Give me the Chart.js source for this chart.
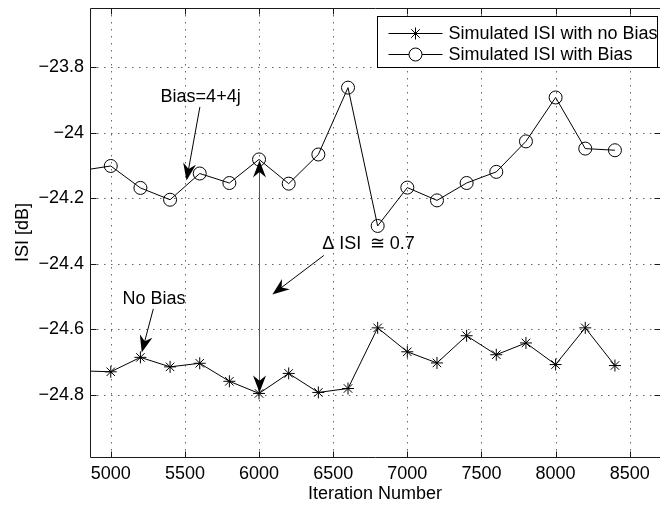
<!DOCTYPE html>
<html>
<head>
<meta charset="utf-8">
<script src="https://cdn.jsdelivr.net/npm/chart.js@4/dist/chart.umd.min.js"></script>
<style>
html,body{margin:0;padding:0;background:#fff;}
#wrap{width:660px;height:505px;}
</style>
</head>
<body>
<div id="wrap"><canvas id="c" width="660" height="505"></canvas></div>
<script>
// ---- data ----
const iterations = [4800, 5000, 5200, 5400, 5600, 5800, 6000, 6200, 6400, 6600, 6800, 7000, 7200, 7400, 7600, 7800, 8000, 8200, 8400];
const isiNoBias  = [-24.727, -24.730, -24.686, -24.715, -24.704, -24.759, -24.796, -24.735, -24.793, -24.781, -24.596, -24.669, -24.703, -24.620, -24.678, -24.642, -24.708, -24.596, -24.711];
const isiBias    = [-24.116, -24.102, -24.169, -24.205, -24.125, -24.154, -24.082, -24.156, -24.067, -23.863, -24.285, -24.168, -24.207, -24.154, -24.120, -24.027, -23.893, -24.049, -24.054];
const seriesNames = ['Simulated ISI with no Bias', 'Simulated ISI with Bias'];
const xTicks = [5000, 5500, 6000, 6500, 7000, 7500, 8000, 8500];
const yTicks = [-23.8, -24, -24.2, -24.4, -24.6, -24.8];
const xTitle = 'Iteration Number';
const yTitle = 'ISI [dB]';
// annotations (data coordinates)
const noteTexts = ['Bias=4+4j', 'No Bias', '\u0394 ISI \u2009\u2245 0.7'];
const noteX = [5606, 5291, 6738];
const noteY = [-23.891, -24.508, -24.339];
const arrowFromX = [5601, 5287, 6437];
const arrowFromY = [-23.922, -24.538, -24.375];
const arrowToX = [5511, 5209, 6090];
const arrowToY = [-24.146, -24.671, -24.494];
const deltaIteration = 6000;

const FONT = '"Liberation Sans", Arial, Helvetica, sans-serif';
const FS = 18;

function yLabel(v) {
  return String(Math.round(v * 10) / 10).replace('-', '\u2212');
}

function arrowHead(ctx, x1, y1, x2, y2, L, W) {
  const a = Math.atan2(y2 - y1, x2 - x1);
  ctx.save();
  ctx.translate(x2, y2);
  ctx.rotate(a);
  ctx.beginPath();
  ctx.moveTo(0, 0);
  ctx.lineTo(-L, -W);
  ctx.lineTo(-L * 0.68, 0);
  ctx.lineTo(-L, W);
  ctx.closePath();
  ctx.fill();
  ctx.restore();
}
function arrow(ctx, x1, y1, x2, y2, color) {
  const L = 17, W = 6.5;
  const d = Math.hypot(x2 - x1, y2 - y1);
  const ex = x2 - (x2 - x1) / d * L * 0.6, ey = y2 - (y2 - y1) / d * L * 0.6;
  ctx.strokeStyle = color || '#000';
  ctx.lineWidth = 1;
  ctx.beginPath(); ctx.moveTo(x1, y1); ctx.lineTo(ex, ey); ctx.stroke();
  ctx.fillStyle = '#000';
  arrowHead(ctx, x1, y1, x2, y2, L, W);
}
function drawStar(ctx, x, y, r) {
  ctx.beginPath();
  ctx.moveTo(x - r, y); ctx.lineTo(x + r, y);
  ctx.moveTo(x, y - r); ctx.lineTo(x, y + r);
  const d = r * Math.SQRT1_2;
  ctx.moveTo(x - d, y - d); ctx.lineTo(x + d, y + d);
  ctx.moveTo(x - d, y + d); ctx.lineTo(x + d, y - d);
  ctx.stroke();
}

const matlabPlugin = {
  id: 'matlab',
  beforeDatasetsDraw(chart) {
    const {ctx, chartArea: a, scales: {x, y}} = chart;
    ctx.save();
    ctx.strokeStyle = 'rgba(0,0,0,0.6)';
    ctx.lineWidth = 1;
    ctx.setLineDash([1.5, 5.5]);
    xTicks.forEach(v => {
      const px = Math.round(x.getPixelForValue(v)) + 0.5;
      ctx.beginPath(); ctx.moveTo(px, a.top); ctx.lineTo(px, a.bottom); ctx.stroke();
    });
    yTicks.forEach(v => {
      const py = Math.round(y.getPixelForValue(v)) + 0.5;
      ctx.beginPath(); ctx.moveTo(a.left, py); ctx.lineTo(a.right, py); ctx.stroke();
    });
    ctx.restore();
  },
  afterDatasetsDraw(chart) {
    const {ctx, chartArea: a, scales: {x, y}} = chart;
    ctx.save();
    // axes box
    ctx.strokeStyle = '#1a1a1a';
    ctx.lineWidth = 1;
    const L = Math.round(a.left) + 0.5, T = Math.round(a.top) + 0.5, B = Math.round(a.bottom) + 0.5, R = Math.round(a.right) + 0.5;
    ctx.beginPath();
    ctx.moveTo(L, T); ctx.lineTo(R, T); ctx.lineTo(R, B); ctx.lineTo(L, B); ctx.closePath();
    ctx.stroke();
    // inward tick marks
    const tl = 6;
    ctx.beginPath();
    xTicks.forEach(v => {
      const px = Math.round(x.getPixelForValue(v)) + 0.5;
      ctx.moveTo(px, B); ctx.lineTo(px, B - tl);
      ctx.moveTo(px, T); ctx.lineTo(px, T + tl);
    });
    yTicks.forEach(v => {
      const py = Math.round(y.getPixelForValue(v)) + 0.5;
      ctx.moveTo(L, py); ctx.lineTo(L + tl, py);
      ctx.moveTo(R, py); ctx.lineTo(R - tl, py);
    });
    ctx.stroke();

    // annotation texts
    ctx.fillStyle = '#000';
    ctx.font = FS + 'px ' + FONT;
    ctx.textAlign = 'center';
    ctx.textBaseline = 'middle';
    noteTexts.forEach((t, i) => {
      ctx.fillText(t, x.getPixelForValue(noteX[i]), y.getPixelForValue(noteY[i]));
    });
    // annotation arrows
    arrowFromX.forEach((v, i) => {
      arrow(ctx, x.getPixelForValue(v), y.getPixelForValue(arrowFromY[i]),
                 x.getPixelForValue(arrowToX[i]), y.getPixelForValue(arrowToY[i]));
    });
    // double arrow between the two series at deltaIteration
    const k = iterations.indexOf(deltaIteration);
    const dx = Math.round(x.getPixelForValue(deltaIteration)) + 0.5;
    const yTop = y.getPixelForValue(isiBias[k]);
    const yBot = y.getPixelForValue(isiNoBias[k]);
    ctx.strokeStyle = '#555';
    ctx.beginPath(); ctx.moveTo(dx, yTop + 10); ctx.lineTo(dx, yBot - 10); ctx.stroke();
    ctx.fillStyle = '#000';
    arrowHead(ctx, dx, yBot, dx, yTop + 1, 17, 6.5);
    arrowHead(ctx, dx, yTop, dx, yBot - 1, 17, 6.5);

    // legend
    const lw = 280, lh = 51;
    const lx = Math.round(a.right - 3 - lw) + 0.5, ly = Math.round(a.top + 8) + 0.5;
    ctx.fillStyle = '#fff';
    ctx.fillRect(lx, ly, lw, lh);
    ctx.strokeStyle = '#000';
    ctx.lineWidth = 1;
    ctx.strokeRect(lx, ly, lw, lh);
    const rows = [ly + 16, ly + 37.5];
    chart.data.datasets.forEach((ds, i) => {
      const ry = Math.round(rows[i]) + 0.5;
      ctx.strokeStyle = '#000';
      ctx.beginPath(); ctx.moveTo(lx + 11, ry); ctx.lineTo(lx + 65, ry); ctx.stroke();
      const mx = lx + 38;
      if (ds.pointStyle === 'star') {
        drawStar(ctx, mx, ry, 6);
      } else {
        ctx.fillStyle = '#fff';
        ctx.beginPath(); ctx.arc(mx, ry, 6.5, 0, Math.PI * 2); ctx.fill(); ctx.stroke();
      }
      ctx.fillStyle = '#000';
      ctx.textAlign = 'left';
      ctx.textBaseline = 'middle';
      ctx.font = FS + 'px ' + FONT;
      ctx.fillText(ds.label, lx + 71, ry + 1);
    });
    ctx.restore();
  }
};

const tickFont = {family: FONT, size: FS};
new Chart(document.getElementById('c').getContext('2d'), {
  type: 'line',
  data: {
    datasets: [
      {
        label: seriesNames[0],
        data: iterations.map((v, i) => ({x: v, y: isiNoBias[i]})),
        borderColor: '#000', borderWidth: 1, tension: 0, fill: false,
        pointStyle: 'star', pointRadius: 6, pointBorderColor: '#000', pointBorderWidth: 1,
        pointBackgroundColor: 'rgba(0,0,0,0)', clip: 0
      },
      {
        label: seriesNames[1],
        data: iterations.map((v, i) => ({x: v, y: isiBias[i]})),
        borderColor: '#000', borderWidth: 1, tension: 0, fill: false,
        pointStyle: 'circle', pointRadius: 6.5, pointBorderColor: '#000', pointBorderWidth: 1,
        pointBackgroundColor: 'rgba(0,0,0,0)', clip: 0
      }
    ]
  },
  options: {
    responsive: false,
    animation: false,
    devicePixelRatio: 1,
    layout: {autoPadding: false, padding: {top: 8, right: 0, left: 0, bottom: 0}},
    plugins: {legend: {display: false}, tooltip: {enabled: false}},
    scales: {
      x: {
        type: 'linear', min: 4860, max: 8704,
        afterBuildTicks: s => { s.ticks = xTicks.map(v => ({value: v})); },
        afterFit: s => { s.height = 48; s.paddingLeft = 0; s.paddingRight = 0; },
        grid: {display: false, drawTicks: false, tickLength: 0}, border: {display: false},
        ticks: {color: '#000', font: tickFont, padding: 6, maxRotation: 0, autoSkip: false, callback: v => String(v)},
        title: {display: true, text: xTitle, color: '#000', font: tickFont, padding: {top: 0, bottom: 0}}
      },
      y: {
        type: 'linear', min: -24.99, max: -23.62,
        afterBuildTicks: s => { s.ticks = yTicks.map(v => ({value: v})); },
        afterFit: s => { s.width = 90; s.paddingTop = 0; s.paddingBottom = 0; },
        grid: {display: false, drawTicks: false, tickLength: 0}, border: {display: false},
        ticks: {color: '#000', font: tickFont, padding: 6, autoSkip: false, callback: v => yLabel(v)},
        title: {display: true, text: yTitle, color: '#000', font: tickFont, padding: {top: 12, bottom: 0}}
      }
    }
  },
  plugins: [matlabPlugin]
});
</script>
</body>
</html>
